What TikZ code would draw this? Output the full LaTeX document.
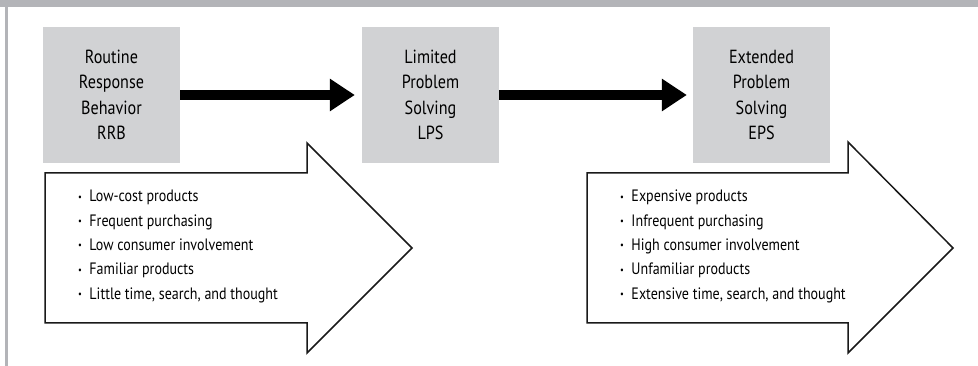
\documentclass[tikz,border=0pt]{standalone}
\usepackage{fontspec}
\setmainfont{PT Sans}[FakeStretch=0.85]
\usetikzlibrary{arrows.meta}
\definecolor{framegray}{HTML}{B3B4B8}
\definecolor{boxgray}{HTML}{D1D2D4}
\tikzset{
  stage/.style={fill=boxgray, minimum width=137pt, minimum height=136pt, inner sep=0pt,
    align=center, font=\fontsize{19}{25.5}\selectfont},
  flow/.style={line width=10pt, -{Triangle[length=25pt,width=31pt]}},
  bigarrow/.style={draw=black!90, line width=1.5pt, fill=white, line join=miter},
  points/.style={anchor=west, align=left, inner sep=0pt, font=\fontsize{16.5}{24.3}\selectfont}
}
\newcommand{\pt}{\raisebox{0.2ex}{\scalebox{0.6}{\textbullet}}\ \ }
\begin{document}
\begin{tikzpicture}[x=1pt, y=-1pt]
    \useasboundingbox (0,0) rectangle (978,366);
    % Frame
    \fill[framegray] (0,0) rectangle (978,7);
    \fill[framegray] (5,7) rectangle (8,366);
    % Stages
    \node[stage] (rrb) at (111.5,95) {Routine\\Response\\Behavior\\RRB};
    \node[stage] (lps) at (430.5,95) {Limited\\Problem\\Solving\\LPS};
    \node[stage] (eps) at (761.5,95) {Extended\\Problem\\Solving\\EPS};
    % Thick arrows
    \draw[flow, shorten >=7pt] (rrb.east) -- (lps.west);
    \draw[flow, shorten >=6pt] (lps.east) -- (eps.west);
    % Big arrow RRB
    \draw[bigarrow] (45,173) -- (307,173) -- (307,143) -- (412,248) -- (307,353)
        -- (307,323) -- (45,323) -- cycle;
    \node[points] (rrblist) at (78,246.5) {\pt Low-cost products\\\pt Frequent purchasing\\
        \pt Low consumer involvement\\\pt Familiar products\\\pt Little time, search, and thought};
    % Big arrow EPS
    \draw[bigarrow] (587,173) -- (848,173) -- (848,142) -- (953,248) -- (848,353)
        -- (848,323) -- (587,323) -- cycle;
    \node[points] (epslist) at (620,246.5) {\pt Expensive products\\\pt Infrequent purchasing\\
        \pt High consumer involvement\\\pt Unfamiliar products\\\pt Extensive time, search, and thought};
\end{tikzpicture}
\end{document}
